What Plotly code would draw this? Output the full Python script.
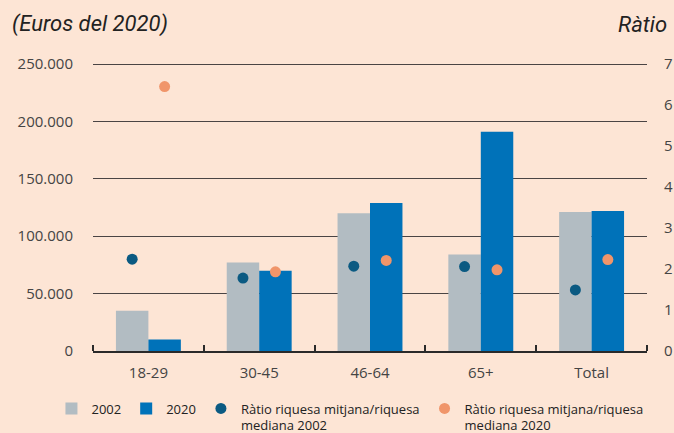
import plotly.graph_objects as go

categories = ["18-29", "30-45", "46-64", "65+", "Total"]
wealth_2002 = [35000, 77000, 120000, 84000, 121000]
wealth_2020 = [10000, 70000, 129000, 191000, 122000]
ratio_2002 = [2.24, 1.78, 2.07, 2.06, 1.49]
ratio_2020 = [6.45, 1.93, 2.21, 1.98, 2.23]
left_ticks = [0, 50000, 100000, 150000, 200000, 250000]
left_tick_labels = ["0", "50.000", "100.000", "150.000", "200.000", "250.000"]
right_ticks = [0, 1, 2, 3, 4, 5, 6, 7]

BG = "#FDE5D5"
GRAY = "#B2BCC2"
BLUE = "#0072B9"
DARK = "#0B5A82"
ORANGE = "#F0956A"
TXT = "#444444"
FONT = "Open Sans"

BARGAP = 0.414
half = (1 - BARGAP) / 4
idx = list(range(len(categories)))
LEFT_MAX = 250000
RIGHT_MAX = 7
PAD = 289 / 287  # small headroom so the top grid line is drawn

fig = go.Figure()
fig.add_trace(go.Bar(x=idx, y=wealth_2002, name="2002", marker=dict(color=GRAY, line=dict(width=0))))
fig.add_trace(go.Bar(x=idx, y=wealth_2020, name="2020", marker=dict(color=BLUE, line=dict(width=0))))
fig.add_trace(go.Scatter(x=[i - half for i in idx], y=ratio_2002, mode="markers", yaxis="y2",
                         name="Ràtio riquesa mitjana/riquesa<br>mediana 2002",
                         marker=dict(color=DARK, size=11)))
fig.add_trace(go.Scatter(x=[i + half for i in idx], y=ratio_2020, mode="markers", yaxis="y2",
                         name="Ràtio riquesa mitjana/riquesa<br>mediana 2020",
                         marker=dict(color=ORANGE, size=11)))

fig.update_layout(
    width=674, height=433,
    paper_bgcolor=BG, plot_bgcolor=BG,
    margin=dict(l=93, r=27, t=62, b=82, autoexpand=False),
    barmode="group", bargap=BARGAP, bargroupgap=0,
    font=dict(family=FONT, size=15, color=TXT),
    xaxis=dict(
        range=[-0.5, len(categories) - 0.5],
        tickmode="array", tickvals=idx, ticktext=categories,
        ticks="", showgrid=False, zeroline=False,
        showline=True, linecolor="#2a2a2a", linewidth=2,
        tickfont=dict(size=15, color=TXT), ticklabelstandoff=7,
        minor=dict(tickmode="linear", tick0=-0.5, dtick=1, ticks="inside", ticklen=6,
                   tickcolor="#2a2a2a", tickwidth=1.5, showgrid=False),
    ),
    yaxis=dict(
        range=[0, LEFT_MAX * PAD], tickmode="array", tickvals=left_ticks, ticktext=left_tick_labels,
        showgrid=True, gridcolor="#4a4444", gridwidth=1.2, zeroline=False,
        ticks="outside", ticklen=16, tickcolor=BG, showline=False,
        tickfont=dict(size=15, color=TXT),
    ),
    yaxis2=dict(
        range=[0, RIGHT_MAX * PAD], tickmode="array", tickvals=right_ticks, overlaying="y", side="right",
        showgrid=False, zeroline=False, showline=False,
        ticks="outside", ticklen=13, tickcolor=BG,
        tickfont=dict(size=15, color=TXT),
    ),
    legend=dict(
        orientation="h", x=-0.075, xanchor="left", y=-0.147, yanchor="top",
        font=dict(size=13, color="#222"), valign="top",
        bgcolor="rgba(0,0,0,0)", traceorder="normal", itemwidth=30,
    ),
    showlegend=True,
)

fig.add_annotation(text="<i>(Euros del 2020)</i>", xref="paper", yref="paper",
                   x=-0.15, y=1.0, xanchor="left", yanchor="bottom", yshift=23,
                   showarrow=False, font=dict(family="Liberation Sans Narrow, Roboto, sans-serif", size=22, color="#222"))
fig.add_annotation(text="<i>Ràtio</i>", xref="paper", yref="paper",
                   x=1.0, y=1.0, xanchor="right", yanchor="bottom", yshift=23, xshift=22,
                   showarrow=False, font=dict(family="Liberation Sans Narrow, Roboto, sans-serif", size=22, color="#222"))

fig.write_html("out.html", config={"displayModeBar": False},
               post_script="document.body.style.margin='0';document.body.style.padding='0';document.body.style.overflow='hidden';")
